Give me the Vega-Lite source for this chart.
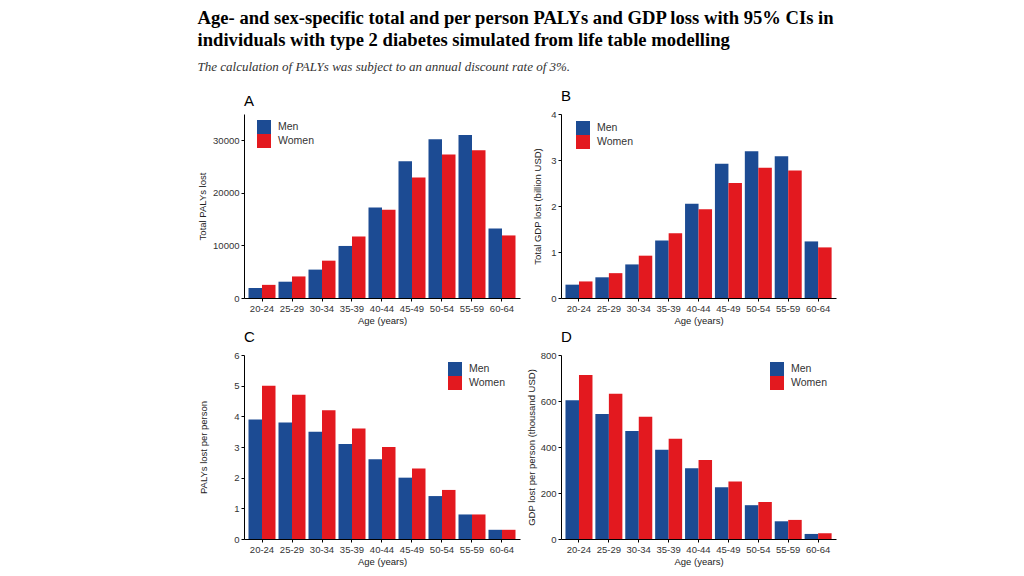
{
  "$schema": "https://vega.github.io/schema/vega-lite/v6.json",
  "background": "white",
  "padding": {"left": 197, "top": 9, "right": 5, "bottom": 6},
  "title": {
    "text": ["Age- and sex-specific total and per person PALYs and GDP loss with 95% CIs in", "individuals with type 2 diabetes simulated from life table modelling"],
    "subtitle": "The calculation of PALYs was subject to an annual discount rate of 3%.",
    "anchor": "start",
    "frame": "bounds",
    "font": "Liberation Serif",
    "fontSize": 18.6,
    "fontWeight": "bold",
    "lineHeight": 22,
    "color": "black",
    "subtitleFont": "Liberation Serif",
    "subtitleFontSize": 13,
    "subtitleFontStyle": "italic",
    "subtitleColor": "#333333",
    "subtitlePadding": 11,
    "offset": 15
  },
  "datasets": {
    "d": [
      {"age": "20-24", "sex": "Men", "palys_total": 1900, "gdp_total": 0.29, "palys_pp": 3.9, "gdp_pp": 603},
      {"age": "20-24", "sex": "Women", "palys_total": 2500, "gdp_total": 0.36, "palys_pp": 5.0, "gdp_pp": 713},
      {"age": "25-29", "sex": "Men", "palys_total": 3100, "gdp_total": 0.45, "palys_pp": 3.8, "gdp_pp": 543},
      {"age": "25-29", "sex": "Women", "palys_total": 4100, "gdp_total": 0.54, "palys_pp": 4.7, "gdp_pp": 632},
      {"age": "30-34", "sex": "Men", "palys_total": 5400, "gdp_total": 0.73, "palys_pp": 3.5, "gdp_pp": 470},
      {"age": "30-34", "sex": "Women", "palys_total": 7100, "gdp_total": 0.92, "palys_pp": 4.2, "gdp_pp": 532},
      {"age": "35-39", "sex": "Men", "palys_total": 9900, "gdp_total": 1.25, "palys_pp": 3.1, "gdp_pp": 388},
      {"age": "35-39", "sex": "Women", "palys_total": 11700, "gdp_total": 1.41, "palys_pp": 3.6, "gdp_pp": 436},
      {"age": "40-44", "sex": "Men", "palys_total": 17200, "gdp_total": 2.05, "palys_pp": 2.6, "gdp_pp": 308},
      {"age": "40-44", "sex": "Women", "palys_total": 16800, "gdp_total": 1.93, "palys_pp": 3.0, "gdp_pp": 343},
      {"age": "45-49", "sex": "Men", "palys_total": 26000, "gdp_total": 2.92, "palys_pp": 2.0, "gdp_pp": 225},
      {"age": "45-49", "sex": "Women", "palys_total": 22900, "gdp_total": 2.5, "palys_pp": 2.3, "gdp_pp": 250},
      {"age": "50-54", "sex": "Men", "palys_total": 30200, "gdp_total": 3.19, "palys_pp": 1.4, "gdp_pp": 147},
      {"age": "50-54", "sex": "Women", "palys_total": 27300, "gdp_total": 2.83, "palys_pp": 1.6, "gdp_pp": 161},
      {"age": "55-59", "sex": "Men", "palys_total": 31000, "gdp_total": 3.08, "palys_pp": 0.8, "gdp_pp": 77},
      {"age": "55-59", "sex": "Women", "palys_total": 28100, "gdp_total": 2.77, "palys_pp": 0.8, "gdp_pp": 83},
      {"age": "60-64", "sex": "Men", "palys_total": 13200, "gdp_total": 1.23, "palys_pp": 0.3, "gdp_pp": 22},
      {"age": "60-64", "sex": "Women", "palys_total": 11900, "gdp_total": 1.1, "palys_pp": 0.3, "gdp_pp": 25}
    ]
  },
  "columns": 2,
  "spacing": {"row": 5, "column": 6},
  "resolve": {"scale": {"color": "independent"}, "legend": {"color": "independent"}},
  "concat": [
    {
      "width": 276, "height": 184,
      "title": {"text": "A"},
      "data": {"name": "d"},
      "mark": {"type": "bar"},
      "encoding": {
        "x": {"field": "age", "type": "nominal", "title": "Age (years)", "scale": {"paddingInner": 0.1, "paddingOuter": 0.15}, "axis": {"labelAngle": 0}},
        "xOffset": {"field": "sex", "type": "nominal", "scale": {"paddingInner": 0, "domain": ["Men", "Women"]}},
        "y": {"field": "palys_total", "type": "quantitative", "title": "Total PALYs lost", "scale": {"domain": [0, 35000], "nice": false}, "axis": {"values": [0, 10000, 20000, 30000], "format": "d", "titlePadding": 5}},
        "color": {"field": "sex", "type": "nominal", "title": null, "scale": {"domain": ["Men", "Women"], "range": ["#1c4b93", "#e3191f"]}, "legend": {"orient": "none", "legendX": 13, "legendY": 6}}
      }
    },
    {
      "width": 275, "height": 184,
      "title": {"text": "B"},
      "data": {"name": "d"},
      "mark": {"type": "bar"},
      "encoding": {
        "x": {"field": "age", "type": "nominal", "title": "Age (years)", "scale": {"paddingInner": 0.1, "paddingOuter": 0.15}, "axis": {"labelAngle": 0}},
        "xOffset": {"field": "sex", "type": "nominal", "scale": {"paddingInner": 0, "domain": ["Men", "Women"]}},
        "y": {"field": "gdp_total", "type": "quantitative", "title": "Total GDP lost (billion USD)", "scale": {"domain": [0, 4], "nice": false}, "axis": {"values": [0, 1, 2, 3, 4], "titlePadding": 8}},
        "color": {"field": "sex", "type": "nominal", "title": null, "scale": {"domain": ["Men", "Women"], "range": ["#1c4b93", "#e3191f"]}, "legend": {"orient": "none", "legendX": 15, "legendY": 7}}
      }
    },
    {
      "width": 276, "height": 184,
      "title": {"text": "C"},
      "data": {"name": "d"},
      "mark": {"type": "bar"},
      "encoding": {
        "x": {"field": "age", "type": "nominal", "title": "Age (years)", "scale": {"paddingInner": 0.1, "paddingOuter": 0.15}, "axis": {"labelAngle": 0}},
        "xOffset": {"field": "sex", "type": "nominal", "scale": {"paddingInner": 0, "domain": ["Men", "Women"]}},
        "y": {"field": "palys_pp", "type": "quantitative", "title": "PALYs lost per person", "scale": {"domain": [0, 6], "nice": false}, "axis": {"values": [0, 1, 2, 3, 4, 5, 6], "titlePadding": 25}},
        "color": {"field": "sex", "type": "nominal", "title": null, "scale": {"domain": ["Men", "Women"], "range": ["#1c4b93", "#e3191f"]}, "legend": {"orient": "none", "legendX": 204, "legendY": 7}}
      }
    },
    {
      "width": 275, "height": 184,
      "title": {"text": "D"},
      "data": {"name": "d"},
      "mark": {"type": "bar"},
      "encoding": {
        "x": {"field": "age", "type": "nominal", "title": "Age (years)", "scale": {"paddingInner": 0.1, "paddingOuter": 0.15}, "axis": {"labelAngle": 0}},
        "xOffset": {"field": "sex", "type": "nominal", "scale": {"paddingInner": 0, "domain": ["Men", "Women"]}},
        "y": {"field": "gdp_pp", "type": "quantitative", "title": "GDP lost per person (thousand USD)", "scale": {"domain": [0, 800], "nice": false}, "axis": {"values": [0, 200, 400, 600, 800], "titlePadding": 4}},
        "color": {"field": "sex", "type": "nominal", "title": null, "scale": {"domain": ["Men", "Women"], "range": ["#1c4b93", "#e3191f"]}, "legend": {"orient": "none", "legendX": 209, "legendY": 7}}
      }
    }
  ],
  "config": {
    "view": {"stroke": null},
    "font": "Liberation Sans",
    "title": {"anchor": "start", "frame": "group", "fontSize": 15, "fontWeight": "normal", "font": "Liberation Sans", "color": "black", "offset": 5},
    "axis": {"domainColor": "black", "tickColor": "black", "labelColor": "#333333", "titleColor": "#222222", "labelFontSize": 9.5, "titleFontSize": 9.5, "titleFontWeight": "normal", "labelFont": "Liberation Sans", "titleFont": "Liberation Sans", "grid": false, "tickSize": 3, "domainWidth": 1},
    "axisX": {"labelPadding": 2, "titlePadding": 3},
    "legend": {"symbolType": "square", "symbolSize": 196, "labelFontSize": 10.5, "labelFont": "Liberation Sans", "labelColor": "#333333", "rowPadding": 0, "symbolStrokeWidth": 0, "symbolOpacity": 1, "labelOffset": 7, "padding": 0}
  }
}
